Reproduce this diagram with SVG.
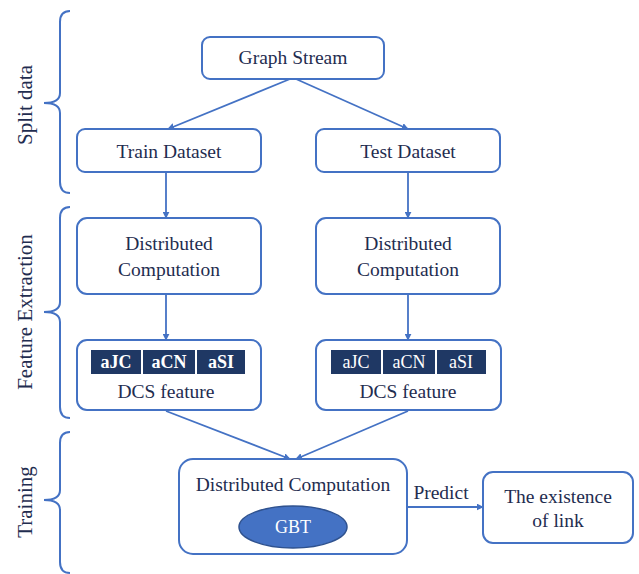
<svg xmlns="http://www.w3.org/2000/svg" width="639" height="574" viewBox="0 0 639 574">
<defs>
<marker id="ah" viewBox="0 0 10 10" refX="9" refY="5" markerWidth="7" markerHeight="7" orient="auto" markerUnits="userSpaceOnUse">
<path d="M0,0 L10,5 L0,10 z" fill="#4472C4"/>
</marker>
<style>
.box{fill:#fff;stroke:#4472C4;stroke-width:2}
text{font-family:'Liberation Serif','Times New Roman','DejaVu Serif',serif}
.t{font-size:19.5px;fill:#1F2D50;text-anchor:middle}
.side{font-size:21px;fill:#1F2D50;text-anchor:middle}
.brace{fill:none;stroke:#4472C4;stroke-width:2}
.conn{fill:none;stroke:#4472C4;stroke-width:1.8;marker-end:url(#ah)}
.dk{fill:#1F3864}
.wt{font-size:18px;fill:#fff;text-anchor:middle}
</style>
</defs>
<rect width="639" height="574" fill="#fff"/>
<g id="braces">
<path class="brace" d="M70,11 Q60,11 60,22 L60,93 Q60,103 44,103 Q60,103 60,113 L60,182 Q60,193 70,193"/>
<path class="brace" d="M70,207 Q60,207 60,218 L60,302 Q60,312 44,312 Q60,312 60,322 L60,407 Q60,418 70,418"/>
<path class="brace" d="M70,432 Q60,432 60,443 L60,490 Q60,500 44,500 Q60,500 60,510 L60,562 Q60,573 70,573"/>
<text class="side" transform="translate(32,105) rotate(-90)">Split data</text>
<text class="side" transform="translate(32,312) rotate(-90)">Feature Extraction</text>
<text class="side" transform="translate(32,502) rotate(-90)">Training</text>
</g>
<g id="connectors">
<path class="conn" d="M290,79 L168,129"/>
<path class="conn" d="M296,79 L408,129"/>
<path class="conn" d="M166,172 L166,218"/>
<path class="conn" d="M408,172 L408,218"/>
<path class="conn" d="M166,294 L166,340"/>
<path class="conn" d="M408,294 L408,340"/>
<path class="conn" d="M166,411 L290,459"/>
<path class="conn" d="M408,411 L296,459"/>
<path class="conn" d="M407,507 L483,507"/>
<text class="t" x="441" y="499">Predict</text>
</g>
<g id="graph-stream">
<rect class="box" x="202" y="37" width="182" height="42" rx="8"/>
<text class="t" x="293" y="64">Graph Stream</text>
</g>
<g id="train-dataset">
<rect class="box" x="77" y="129" width="184" height="43" rx="8"/>
<text class="t" x="169" y="158">Train Dataset</text>
</g>
<g id="test-dataset">
<rect class="box" x="316" y="129" width="184" height="43" rx="8"/>
<text class="t" x="408" y="158">Test Dataset</text>
</g>
<g id="dist-left">
<rect class="box" x="77" y="218" width="184" height="76" rx="10"/>
<text class="t" x="169" y="250">Distributed</text>
<text class="t" x="169" y="276">Computation</text>
</g>
<g id="dist-right">
<rect class="box" x="316" y="218" width="184" height="76" rx="10"/>
<text class="t" x="408" y="250">Distributed</text>
<text class="t" x="408" y="276">Computation</text>
</g>
<g id="dcs-left">
<rect class="box" x="77" y="340" width="184" height="70" rx="10"/>
<rect class="dk" x="91" y="350" width="50" height="24"/>
<rect class="dk" x="143" y="350" width="52" height="24"/>
<rect class="dk" x="197" y="350" width="48" height="24"/>
<text class="wt" x="116" y="368" font-weight="bold">aJC</text>
<text class="wt" x="169" y="368" font-weight="bold">aCN</text>
<text class="wt" x="221" y="368" font-weight="bold">aSI</text>
<text class="t" x="166" y="398">DCS feature</text>
</g>
<g id="dcs-right">
<rect class="box" x="316" y="340" width="185" height="70" rx="10"/>
<rect class="dk" x="331" y="350" width="50" height="24"/>
<rect class="dk" x="383" y="350" width="52" height="24"/>
<rect class="dk" x="437" y="350" width="49" height="24"/>
<text class="wt" x="356" y="368">aJC</text>
<text class="wt" x="409" y="368">aCN</text>
<text class="wt" x="461" y="368">aSI</text>
<text class="t" x="408" y="398">DCS feature</text>
</g>
<g id="dist-gbt">
<rect class="box" x="179" y="459" width="228" height="95" rx="14"/>
<text class="t" x="293" y="491">Distributed Computation</text>
<ellipse cx="293" cy="527" rx="54" ry="21" fill="#4472C4" stroke="#2F528F" stroke-width="1.5"/>
<text class="wt" x="293" y="533">GBT</text>
</g>
<g id="existence">
<rect class="box" x="483" y="472" width="150" height="71" rx="10"/>
<text class="t" x="558" y="503">The existence</text>
<text class="t" x="558" y="527">of link</text>
</g>
</svg>
